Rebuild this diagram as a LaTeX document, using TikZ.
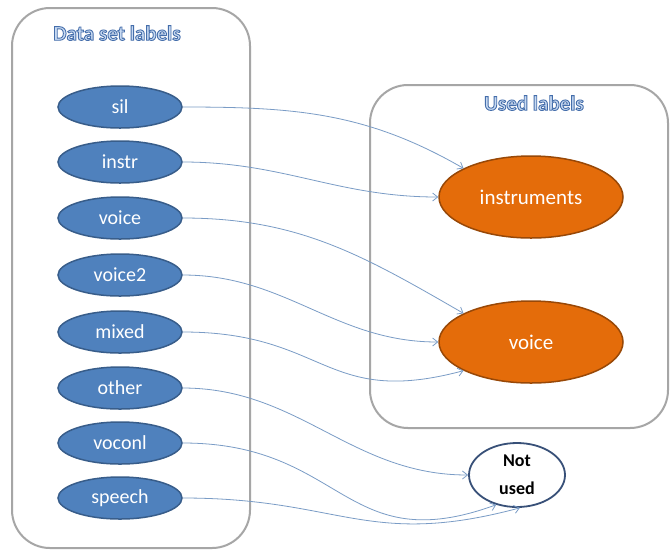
\documentclass[tikz,border=0pt]{standalone}
\usepackage{fontspec}
\setmainfont{Carlito}
\usetikzlibrary{shapes.geometric,arrows.meta}
\definecolor{boxgray}{RGB}{166,166,166}
\definecolor{bfill}{RGB}{79,129,189}
\definecolor{bdraw}{RGB}{56,93,138}
\definecolor{ofill}{RGB}{228,108,10}
\definecolor{odraw}{RGB}{152,72,7}
\definecolor{linkc}{RGB}{122,156,198}
\definecolor{nudraw}{RGB}{56,80,120}
\definecolor{ttlin}{RGB}{200,218,242}
\newcommand\outltxt[1]{{\color{ttlin}\special{pdf:literal direct 2 Tr 0.9 w 0.27 0.43 0.67 RG}#1\special{pdf:literal direct 0 Tr}}}
\tikzset{
  container/.style={draw=boxgray, line width=2pt, rounded corners=38pt},
  srcnode/.style={ellipse, draw=bdraw, line width=1.5pt, fill=bfill, minimum width=124pt, minimum height=42pt, inner sep=0pt, text=white, font=\fontsize{20}{22}\selectfont},
  usednode/.style={ellipse, draw=odraw, line width=1.5pt, fill=ofill, minimum width=184pt, minimum height=82pt, inner sep=0pt, text=white, font=\fontsize{21}{24}\selectfont},
  notnode/.style={ellipse, draw=nudraw, line width=1.8pt, fill=white, minimum width=96pt, minimum height=64pt, inner sep=0pt, align=center, font=\bfseries\fontsize{18}{28}\selectfont},
  ttl/.style={font=\bfseries\fontsize{21}{24}\selectfont, inner sep=0pt},
  link/.style={draw=linkc, line width=0.8pt, -{Straight Barb[length=5pt,width=8pt]}},
}
\begin{document}
\begin{tikzpicture}[x=1pt,y=1pt]
\useasboundingbox (0,0) rectangle (671,-550);
\fill[white] (0,0) rectangle (671,-550);
\draw[container] (12,-8) rectangle (250,-548);
\draw[container] (370,-85) rectangle (668,-428);
\node[ttl] (t1) at (117,-33) {\outltxt{Data set labels}};
\node[ttl] (t2) at (534,-103) {\outltxt{Used labels}};
\node[srcnode] (sil) at (120,-107) {sil};
\node[srcnode] (instr) at (120,-162) {instr};
\node[srcnode] (voice) at (120,-218) {voice};
\node[srcnode] (voice2) at (120,-275) {voice2};
\node[srcnode] (mixed) at (120,-332) {mixed};
\node[srcnode] (other) at (120,-388) {other};
\node[srcnode] (voconl) at (120,-443) {voconl};
\node[srcnode] (speech) at (120,-498) {speech};
\node[usednode] (instruments) at (531,-197) {instruments};
\node[usednode] (uvoice) at (531,-342) {voice};
\node[notnode] (notused) at (517,-475) {Not\\used};
\draw[link] (sil.east) to[out=0,in=150] (instruments.157);
\draw[link] (instr.east) to[out=0,in=180] (instruments.west);
\draw[link] (voice.east) to[out=0,in=150] (uvoice.157);
\draw[link] (voice2.east) to[out=0,in=180] (uvoice.west);
\draw[link] (mixed.east) to[out=0,in=195,looseness=1.3] (uvoice.203);
\draw[link] (other.east) to[out=0,in=180] (notused.west);
\draw[link] (voconl.east) to[out=0,in=200,looseness=1.3] (notused.235);
\draw[link] (speech.east) to[out=0,in=195,looseness=1.2] (notused.275);
\end{tikzpicture}
\end{document}
